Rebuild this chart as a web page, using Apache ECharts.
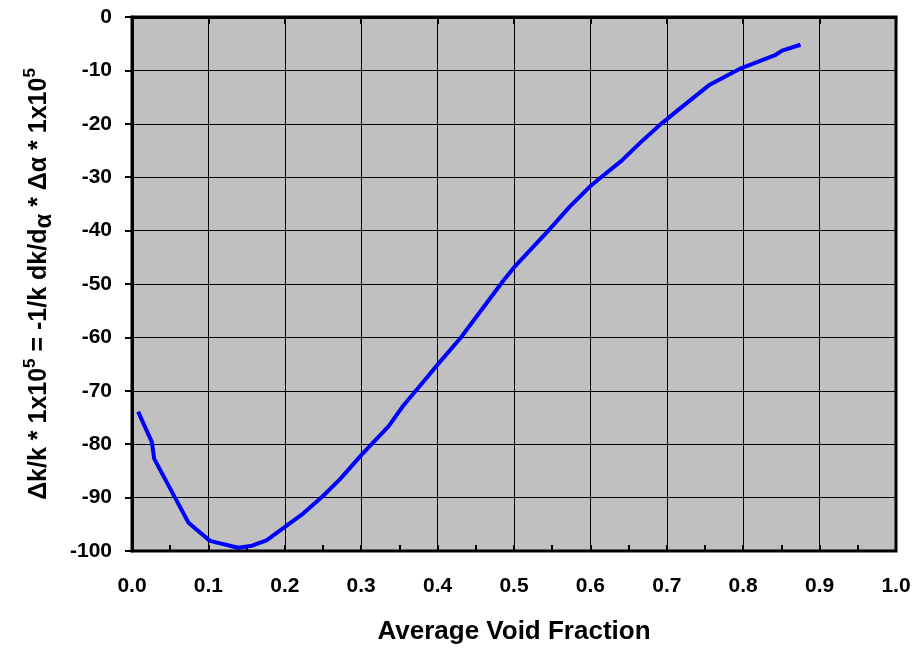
<!DOCTYPE html>
<html>
<head>
<meta charset="utf-8">
<script src="https://cdn.jsdelivr.net/npm/echarts@6/dist/echarts.min.js"></script>
<style>
  html, body { margin: 0; padding: 0; background: #fff; }
  #chart { width: 914px; height: 650px; }
</style>
</head>
<body>
<div id="chart"></div>
<script>
// average void fraction
const voidFraction = [0.008, 0.026, 0.029, 0.054, 0.074, 0.102, 0.139, 0.157, 0.176, 0.202,
  0.224, 0.250, 0.272, 0.301, 0.336, 0.355, 0.386, 0.400, 0.430, 0.486, 0.500, 0.545,
  0.573, 0.599, 0.614, 0.641, 0.667, 0.691, 0.715, 0.755, 0.797, 0.841, 0.851, 0.875];
// dk/k * 1e5
const reactivity = [-73.9, -79.6, -82.7, -89.4, -94.7, -98.1, -99.4, -99.0, -98.0, -95.3,
  -93.0, -89.7, -86.6, -81.9, -76.6, -72.8, -67.5, -65.1, -60.1, -49.4, -46.9, -40.0,
  -35.5, -31.8, -30.0, -26.9, -23.3, -20.2, -17.4, -12.8, -9.6, -7.2, -6.3, -5.2];

const chart = echarts.init(document.getElementById('chart'));
const font = 'Liberation Sans, Arial, sans-serif';

const points = voidFraction.map((x, i) => [x, reactivity[i]]);

const option = {
  animation: false,
  grid: {
    left: 132,
    right: 18,
    top: 17,
    bottom: 97,
    show: true,
    backgroundColor: '#c0c0c0',
    borderColor: '#000',
    borderWidth: 3
  },
  xAxis: [
    {
      type: 'value',
      position: 'bottom',
      min: 0,
      max: 1,
      interval: 0.1,
      name: 'Average Void Fraction',
      nameLocation: 'middle',
      nameGap: 68,
      nameTextStyle: { fontFamily: font, fontWeight: 'bold', fontSize: 26, color: '#000' },
      axisLine: { show: true, lineStyle: { color: '#000', width: 3 } },
      axisTick: { show: true, length: 7, lineStyle: { color: '#000', width: 2 } },
      axisLabel: {
        margin: 25,
        fontFamily: font, fontWeight: 'bold', fontSize: 21, color: '#000',
        formatter: v => v.toFixed(1)
      },
      splitLine: { show: true, lineStyle: { color: '#000', width: 1 } }
    },
    {
      // small inward ticks every 0.05
      type: 'value',
      position: 'bottom',
      min: 0,
      max: 1,
      interval: 0.05,
      axisLine: { show: false },
      axisTick: { show: true, inside: true, length: 6, lineStyle: { color: '#000', width: 2 } },
      axisLabel: { show: false },
      splitLine: { show: false }
    }
  ],
  yAxis: {
    type: 'value',
    min: -100,
    max: 0,
    interval: 10,
    name: '{t|Δk/k * 1x10}{sup|5}{t| = -1/k dk/d}{sub|α}{t| * Δα * 1x10}{sup|5}',
    nameLocation: 'middle',
    nameGap: 76,
    nameRotate: 90,
    nameTextStyle: {
      fontFamily: font, fontWeight: 'bold', fontSize: 25, color: '#000',
      rich: {
        t: { fontFamily: font, fontWeight: 'bold', fontSize: 25, color: '#000', lineHeight: 34 },
        sup: { fontFamily: font, fontWeight: 'bold', fontSize: 17, color: '#000', lineHeight: 17, verticalAlign: 'top' },
        sub: { fontFamily: font, fontWeight: 'bold', fontSize: 24, color: '#000', lineHeight: 24, verticalAlign: 'bottom' }
      }
    },
    axisLine: { show: true, lineStyle: { color: '#000', width: 3 } },
    axisTick: { show: true, length: 7, lineStyle: { color: '#000', width: 2 } },
    axisLabel: { margin: 20, fontFamily: font, fontWeight: 'bold', fontSize: 21, color: '#000' },
    splitLine: { show: true, lineStyle: { color: '#000', width: 1 } }
  },
  series: [
    {
      type: 'line',
      xAxisIndex: 0,
      data: points,
      showSymbol: false,
      symbol: 'none',
      lineStyle: { color: '#0000ff', width: 4 },
      z: 5
    }
  ]
};

chart.setOption(option);
</script>
</body>
</html>
